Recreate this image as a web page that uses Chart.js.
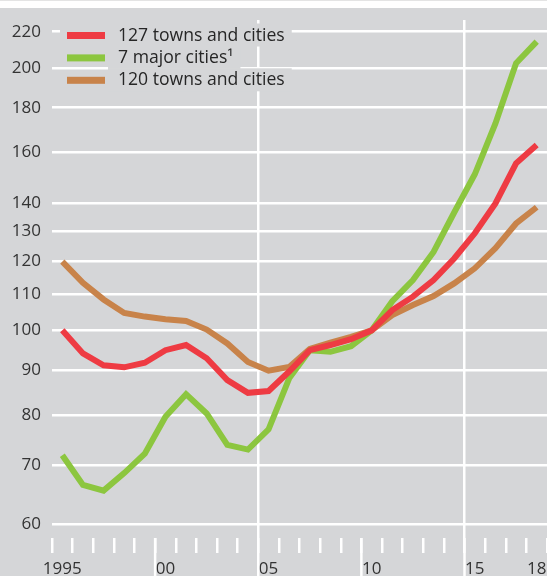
<!DOCTYPE html>
<html>
<head>
<meta charset="utf-8">
<script src="https://cdn.jsdelivr.net/npm/chart.js@4/dist/chart.umd.min.js"></script>
<style>
  html, body { margin: 0; padding: 0; background: #fff; }
  body { width: 547px; height: 576px; position: relative; overflow: hidden; border-top: 1px solid #e4e4e4; box-sizing: border-box; }
  #wrap { position: absolute; left: 0; top: 7px; width: 547px; height: 568px; background: #d5d6d8; }
</style>
</head>
<body>
<div id="wrap"><canvas id="myChart"></canvas></div>
<script>
// years (points sit in the middle of each year)
const years = [1995, 1996, 1997, 1998, 1999, 2000, 2001, 2002, 2003, 2004, 2005, 2006,
               2007, 2008, 2009, 2010, 2011, 2012, 2013, 2014, 2015, 2016, 2017, 2018];
// index values, 2010 = 100
const towns127 = [100, 94.1, 91.2, 90.7, 91.8, 94.9, 96.2, 92.9, 87.7, 84.8, 85.2, 89.7,
                  94.9, 96.2, 97.7, 100, 105.5, 109.3, 114.2, 120.9, 129.2, 139.8, 155.4, 163.1];
const majorCities7 = [71.9, 66.5, 65.5, 68.6, 72.2, 79.6, 84.5, 80.3, 73.9, 73.0, 77.0, 88.1,
                      94.9, 94.5, 95.9, 100, 108, 114.2, 123, 136.5, 151, 172.7, 202.4, 214.3];
const towns120 = [119.9, 113.4, 108.5, 104.7, 103.7, 103.0, 102.5, 100.2, 96.6, 92.0, 89.9, 90.8,
                  95.2, 96.8, 98.3, 100, 104.1, 106.9, 109.5, 113.2, 117.8, 124.2, 132.6, 138.4];
const seriesLabels = ['127 towns and cities', '7 major cities\u00B9', '120 towns and cities'];
// axis ticks
const yTicks = [60, 70, 80, 90, 100, 110, 120, 130, 140, 160, 180, 200, 220];
const xLabelYears = [1995, 2000, 2005, 2010, 2015, 2018];
const xLabels = ['1995', '00', '05', '10', '15', '18'];
const fullLineYears = [2005, 2015];
const longTickYears = [2000, 2005, 2010, 2015];

function toPoints(values) {
	return years.map(function(yr, i) { return {x: yr + 0.5, y: values[i]}; });
}

Chart.defaults.font.family = "'Open Sans', 'DejaVu Sans', sans-serif";
Chart.defaults.font.size = 17;
Chart.defaults.color = '#333333';

// legend drawn inside the plot, each row on a grey patch
const insideLegend = {
	id: 'insideLegend',
	afterDraw: function(chart) {
		const c = chart.ctx;
		c.save();
		c.font = "17.6px 'Open Sans', 'DejaVu Sans', sans-serif";
		c.textBaseline = 'middle';
		chart.data.datasets.forEach(function(ds, i) {
			const cy = 27.5 + i * 22.4;
			const tw = c.measureText(ds.label).width;
			c.fillStyle = '#d5d6d8';
			c.fillRect(60, cy - 7, 50, 14);
			c.fillRect(108, cy - 12, tw + 17, 23);
			c.fillStyle = ds.borderColor;
			c.fillRect(67, cy - 3.5, 38, 7);
			c.fillStyle = '#262626';
			c.fillText(ds.label, 118, cy);
		});
		c.restore();
	}
};

// longer white ticks under the axis
const longTicks = {
	id: 'longTicks',
	afterDraw: function(chart) {
		const c = chart.ctx;
		const xs = chart.scales.x;
		c.save();
		c.strokeStyle = '#ffffff';
		c.lineWidth = 2.5;
		longTickYears.forEach(function(yr) {
			const px = xs.getPixelForValue(yr);
			c.beginPath();
			c.moveTo(px, chart.chartArea.bottom);
			c.lineTo(px, chart.height);
			c.stroke();
		});
		c.restore();
	}
};

var ctx = document.getElementById('myChart').getContext('2d');
var myChart = new Chart(ctx, {
	type: 'line',
	data: {
		datasets: [{
			label: seriesLabels[0],
			data: toPoints(towns127),
			borderColor: '#ee3b43'
		}, {
			label: seriesLabels[1],
			data: toPoints(majorCities7),
			borderColor: '#8cc63f'
		}, {
			label: seriesLabels[2],
			data: toPoints(towns120),
			borderColor: '#c8834a'
		}]
	},
	options: {
		responsive: true,
		maintainAspectRatio: false,
		animation: false,
		layout: { padding: { top: 12, left: 0, right: 0, bottom: 0 } },
		elements: {
			line: { borderWidth: 6, tension: 0, borderJoinStyle: 'miter', borderCapStyle: 'butt' },
			point: { radius: 0, hoverRadius: 0 }
		},
		plugins: {
			legend: { display: false },
			tooltip: { enabled: false }
		},
		scales: {
			x: {
				type: 'linear',
				min: 1995,
				max: 2019,
				afterFit: function(scale) {
					scale.height = 38;
					scale.paddingLeft = 0;
					scale.paddingRight = 0;
				},
				border: { display: false },
				grid: {
					color: function(c) {
						return c.tick && fullLineYears.indexOf(c.tick.value) >= 0 ? '#ffffff' : 'rgba(0,0,0,0)';
					},
					tickColor: '#ffffff',
					lineWidth: 2.5,
					tickWidth: 2.5,
					tickLength: 15
				},
				ticks: {
					stepSize: 1,
					autoSkip: false,
					maxRotation: 0,
					padding: 6,
					labelOffset: 10.3,
					color: '#333333',
					callback: function(v) {
						const i = xLabelYears.indexOf(v);
						return i >= 0 ? xLabels[i] : '';
					}
				}
			},
			y: {
				type: 'logarithmic',
				min: 57.8,
				max: 226.9,
				afterFit: function(scale) {
					scale.width = 52;
					scale.paddingTop = 0;
					scale.paddingBottom = 0;
				},
				afterBuildTicks: function(scale) {
					scale.ticks = yTicks.map(function(v) { return {value: v}; });
				},
				border: { display: false },
				grid: { color: '#ffffff', lineWidth: 2.5, drawTicks: false },
				ticks: {
					padding: 11,
					color: '#333333',
					autoSkip: false,
					callback: function(v) { return String(v); }
				}
			}
		}
	},
	plugins: [insideLegend, longTicks]
});
</script>
</body>
</html>
